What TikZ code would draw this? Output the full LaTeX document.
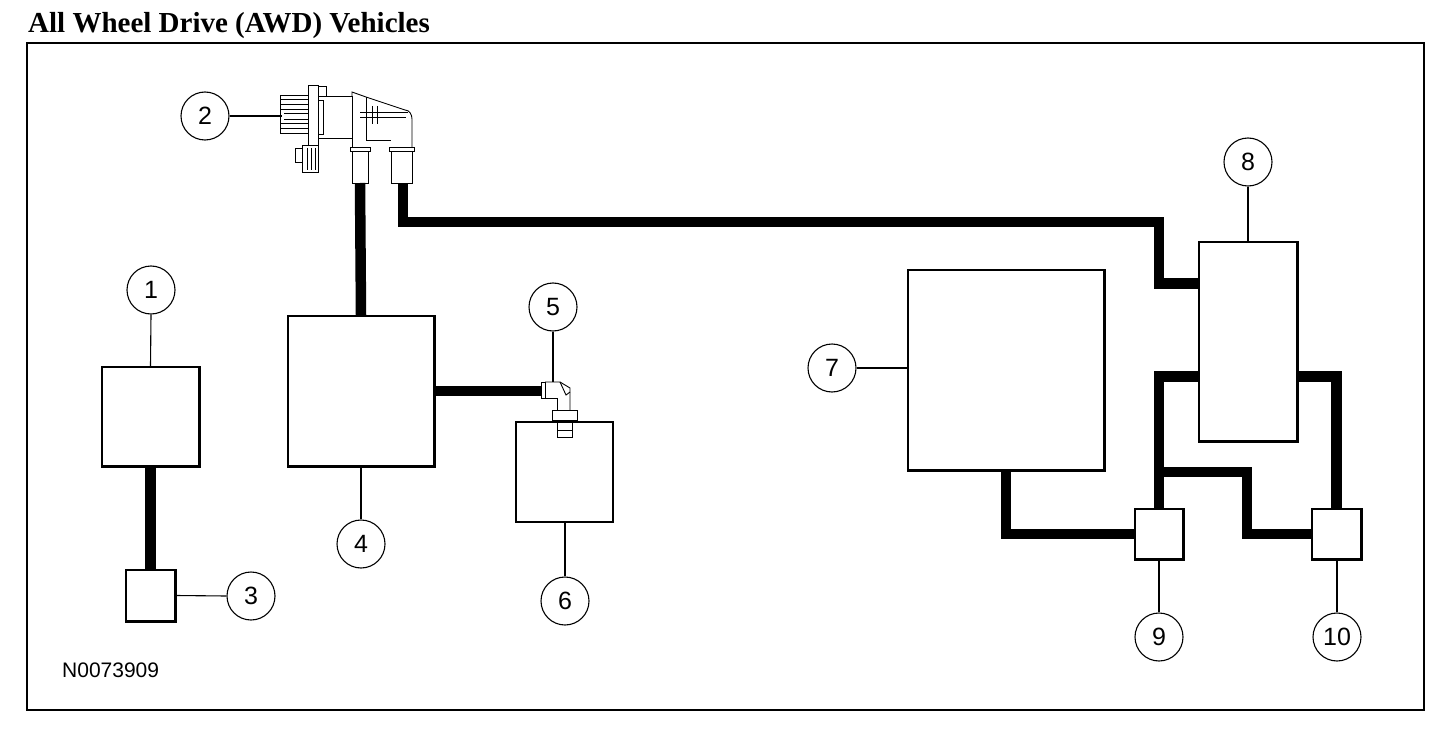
\documentclass[tikz,border=0pt]{standalone}
\usepackage{fontspec}
\setmainfont{Liberation Serif}
\setsansfont{Liberation Sans}
\begin{document}
\begin{tikzpicture}[x=1pt,y=-1pt,
  box/.style={draw,line width=1.5pt,inner sep=0pt,fill=white},
  callout/.style={draw,circle,line width=1.1pt,minimum size=48pt,inner sep=0pt,font=\sffamily\fontsize{25}{25}\selectfont},
  leader/.style={line width=1.1pt},
  pipe/.style={line width=10.5pt,line join=miter},
  part/.style={line width=0.9pt}]
\useasboundingbox (0,0) rectangle (1456,738);
\fill[white] (0,0) rectangle (1456,738);
\node[anchor=base west,inner sep=0pt,font=\bfseries\fontsize{29}{29}\selectfont] (title) at (28,33) {All Wheel Drive (AWD) Vehicles};
\draw[line width=2pt] (27,43) rectangle (1424,710);
\node[anchor=base west,inner sep=0pt,font=\sffamily\fontsize{21}{21}\selectfont] (code) at (62,677) {N0073909};

\coordinate (v2l) at (360,183);
\coordinate (v2r) at (403,183);
\coordinate (f5) at (541,391);
\coordinate (jn) at (1159,472);

% boxes
\node[box,minimum width=97pt,minimum height=99pt] (b1) at (150.5,416.5) {};
\node[box,minimum width=49pt,minimum height=51pt] (b3) at (150.5,595.5) {};
\node[box,minimum width=146pt,minimum height=150pt] (b4) at (361,391) {};
\node[box,minimum width=97pt,minimum height=100pt] (b6) at (564.5,472) {};
\node[box,minimum width=196pt,minimum height=200pt] (b7) at (1006,370) {};
\node[box,minimum width=98pt,minimum height=199pt] (b8) at (1248,341.5) {};
\node[box,minimum width=48pt,minimum height=50pt] (b9) at (1159,534) {};
\node[box,minimum width=49pt,minimum height=50pt] (b10) at (1336.5,534) {};

\draw[pipe] (b1.south) -- (b3.north);
\draw[pipe] (v2l) -- (b4.north);
\draw[pipe] (b4.east |- f5) -- (f5);
\draw[pipe] ([yshift=-42pt]b8.north west) -| (1159,222) -| (v2r);
\draw[pipe] ([yshift=-135pt]b8.north west) -| (b9.north);
\draw[pipe] (jn) -| (1247,534) -- (b10.west);
\draw[pipe] ([yshift=-135pt]b8.north east) -| (b10.north);
\draw[pipe] (b7.south) |- (b9.west);

\foreach \b in {b1,b3,b4,b7,b8,b9,b10}{\draw[line width=1.5pt] (\b.north west) rectangle (\b.south east);}

% callouts
\node[callout] (c1) at (151,290) {1};
\node[callout] (c2) at (205,116) {2};
\node[callout] (c3) at (251,596) {3};
\node[callout] (c4) at (361,544) {4};
\node[callout] (c5) at (553,307) {5};
\node[callout] (c6) at (565,601) {6};
\node[callout] (c7) at (832,368) {7};
\node[callout] (c8) at (1248,162) {8};
\node[callout] (c9) at (1159,637) {9};
\node[callout] (c10) at (1337,637) {10};

% valve 2
\coordinate (v2) at (282,116);
\draw[part] (280,95) rectangle (308,133);
\foreach \yy in {99,104,109,123,128}{\draw[part] (280,\yy) -- (308,\yy);}
\draw[part] (284,113) -- (308,113); \draw[part] (284,119) -- (308,119);
\draw[part] (308,85) rectangle (318,145);
\draw[part] (318,86) rectangle (326,96);
\draw[part] (318,96) rectangle (352,138);
\draw[part] (318,100) rectangle (323,134);
\draw[part] (352,96) -- (352,92) -- (366,97) -- (405,110) to[out=0,in=90] (412,119) -- (412,147);
\draw[part] (352,138) -- (352,147);
\draw[part] (366,97) -- (366,140) -- (391,140);
\draw[part] (360,112) -- (408,112);
\draw[part] (360,117) -- (406,117);
\draw[part] (372,106) -- (372,124); \draw[part] (377,106) -- (377,124);
\draw[part] (352,147) rectangle (368,183);
\draw[part,fill=white] (350,147) rectangle (370,151);
\draw[part] (391,147) rectangle (412,183);
\draw[part,fill=white] (389,147) rectangle (414,151);
\draw[part] (302,145) rectangle (318,172);
\draw[part] (295,148) rectangle (302,162);
\foreach \xx in {307,311,315}{\draw[part] (\xx,148) -- (\xx,170);}

% fitting 5
\draw[part,fill=white] (541,382) rectangle (545,398);
\draw[part] (545,382) -- (560,382) -- (570,388) -- (570,410);
\draw[part] (545,398) -- (557,398) -- (557,410);
\draw[part] (560,382) -- (566,395) -- (570,392);
\draw[part] (552,410) rectangle (577,420);
\draw[part] (557,422) rectangle (572,437);
\draw[part] (557,430) -- (572,430);
\coordinate (f5t) at (553,382);

% leaders
\draw[leader] (c1.south) -- (b1.north);
\draw[leader] (c2.east) -- (v2);
\draw[leader] (c3.west) -- (b3.east);
\draw[leader] (c4.north) -- (b4.south);
\draw[leader] (c5.south) -- (f5t);
\draw[leader] (c6.north) -- (c6.north |- b6.south);
\draw[leader] (c7.east) -- (b7.west |- c7);
\draw[leader] (c8.south) -- (b8.north);
\draw[leader] (c9.north) -- (b9.south);
\draw[leader] (c10.north) -- (c10.north |- b10.south);
\end{tikzpicture}
\end{document}
